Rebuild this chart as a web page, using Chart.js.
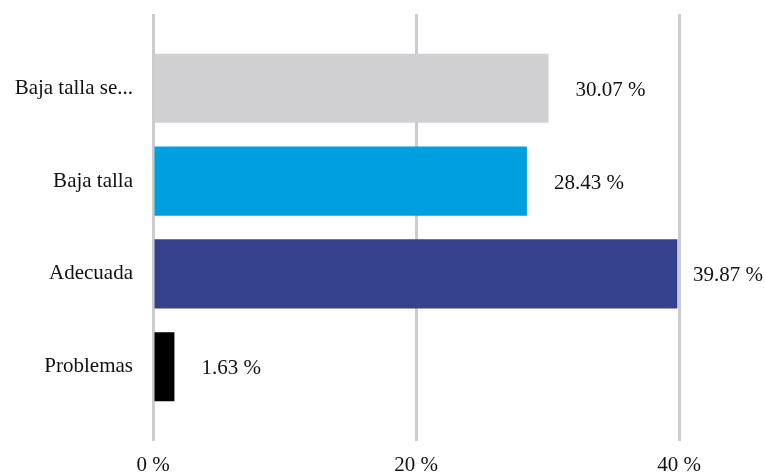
<!DOCTYPE html>
<html>
<head>
    <meta charset="UTF-8">
    <title>Talla</title>
    <script src="https://cdn.jsdelivr.net/npm/chart.js"></script>
    <style>
        html, body { margin: 0; padding: 0; background: #fff; }
        #wrap { width: 765px; height: 474px; }
    </style>
</head>
<body>
<div id="wrap"><canvas id="barChart"></canvas></div>
<script>
    const categories = ["Baja talla se...", "Baja talla", "Adecuada", "Problemas"];
    const values = [30.07, 28.43, 39.87, 1.63];
    const barColors = ["#d0cfd1", "#00a0e0", "#36418e", "#000000"];
    const xTicks = [0, 20, 40];

    const FONT = "'Liberation Serif', serif";

    // value labels to the right of each bar, kept inside the canvas
    const valueLabels = {
        id: "valueLabels",
        afterDatasetsDraw(chart) {
            const ctx = chart.ctx;
            const meta = chart.getDatasetMeta(0);
            ctx.save();
            ctx.font = "21px " + FONT;
            ctx.fillStyle = "#111";
            ctx.textAlign = "left";
            ctx.textBaseline = "middle";
            meta.data.forEach((bar, i) => {
                const txt = values[i].toFixed(2) + " %";
                const w = ctx.measureText(txt).width;
                const x = Math.min(bar.x + 27, chart.width - w - 2);
                ctx.fillText(txt, x, bar.y + 2);
            });
            ctx.restore();
        }
    };

    new Chart(document.getElementById("barChart"), {
        type: "bar",
        data: {
            datasets: [{
                data: values.map((v, i) => ({ x: v, y: i })),
                backgroundColor: barColors,
                borderWidth: 0,
                barPercentage: 0.745,
                categoryPercentage: 1
            }]
        },
        options: {
            indexAxis: "y",
            responsive: true,
            maintainAspectRatio: false,
            animation: false,
            layout: { padding: { top: 14, right: 7, left: 0, bottom: 0 } },
            plugins: { legend: { display: false }, tooltip: { enabled: false } },
            scales: {
                x: {
                    type: "linear",
                    min: 0,
                    max: 46,
                    afterBuildTicks: s => { s.ticks = xTicks.map(v => ({ value: v })); },
                    grid: { color: "#cccccc", lineWidth: 3, drawTicks: false },
                    border: { display: false },
                    ticks: {
                        padding: 12,
                        color: "#111",
                        font: { family: FONT, size: 21 },
                        callback: v => v + " %"
                    },
                    afterFit: s => { s.height = 33; }
                },
                y: {
                    type: "linear",
                    offset: false,
                    min: -0.8,
                    max: 3.8,
                    reverse: true,
                    afterBuildTicks: s => { s.ticks = categories.map((c, i) => ({ value: i })); },
                    grid: { display: false, drawTicks: false },
                    border: { display: false },
                    ticks: {
                        padding: 20,
                        color: "#111",
                        font: { family: FONT, size: 21 },
                        callback: v => categories[v]
                    },
                    afterFit: s => {
                        s.width = 153;
                        s.paddingTop = 0;
                        s.paddingBottom = 0;
                    }
                }
            }
        },
        plugins: [valueLabels]
    });
</script>
</body>
</html>
